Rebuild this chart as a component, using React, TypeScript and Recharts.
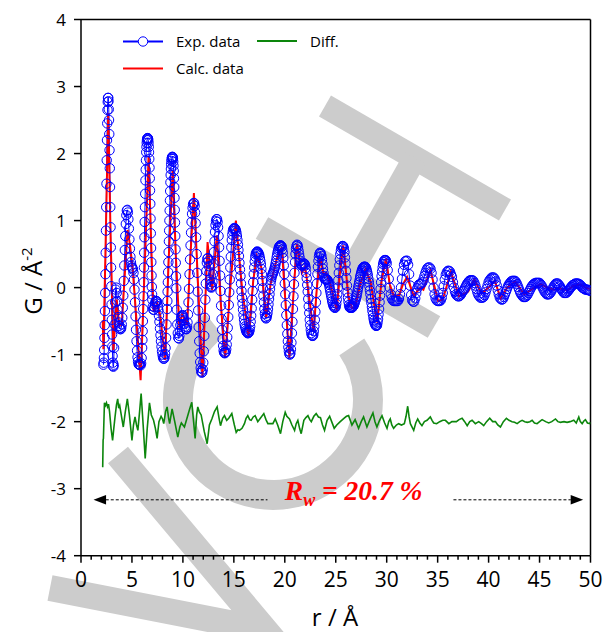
import React from 'react'
import { ComposedChart, Line, XAxis, YAxis, ReferenceLine, ReferenceDot } from 'recharts'

const FONT = '"Open Sans", "Noto Sans", Arial, sans-serif'

// axis ticks
const xTicks = Array.from({ length: 51 }, (_, i) => i)
const yTicks = [-4, -3, -2, -1, 0, 1, 2, 3, 4]

// Exp. data in segments (start r, step, values)
const expG1 = [-1.15, -1.12, -1.05, -0.93, -0.75, -0.56, -0.35, -0.08, 0.2, 0.52, 0.85, 1.2, 1.55, 1.9, 2.2, 2.45, 2.65, 2.77, 2.83, 2.83, 2.78, 2.66, 2.5, 2.29, 2.05, 1.78, 1.5, 1.2, 0.9, 0.6, 0.3, 0.02, -0.25, -0.48, -0.7, -0.88, -1.02, -1.12, -1.17, -1.18, -1.15]
const expG2 = [-0.9, -0.55, -0.22, -0.03, 0.0, -0.08, -0.2, -0.33, -0.44, -0.52, -0.57, -0.6, -0.62, -0.62, -0.6,
  -0.55, -0.45, -0.3, -0.12, 0.1, 0.33, 0.56, 0.77, 0.95, 1.08, 1.15, 1.16, 1.12, 1.02, 0.88, 0.72, 0.58, 0.46, 0.38, 0.33,
  0.3, 0.29, 0.27, 0.22, 0.12, -0.03, -0.22, -0.43, -0.63, -0.8, -0.94, -1.04, -1.1, -1.14, -1.15, -1.15, -1.15, -1.16, -1.13, -1.05,
  -0.9]
const expG3 = [-0.78, -0.65, -0.5, -0.32, -0.13, 0.08, 0.3, 0.52, 0.75, 0.98, 1.2, 1.4, 1.6, 1.76, 1.9, 2.02, 2.1, 2.16, 2.2, 2.22, 2.23, 2.23, 2.22, 2.2, 2.16, 2.1, 2.02, 1.92, 1.79, 1.63, 1.45, 1.25, 1.03, 0.81, 0.59, 0.38, 0.18, 0.01, -0.1]
const expG4 = [-0.18, -0.28, -0.33, -0.33, -0.29, -0.25, -0.22, -0.2, -0.2, -0.21, -0.24, -0.28, -0.34, -0.42, -0.51, -0.61, -0.71, -0.8, -0.88, -0.95, -1.0, -1.04, -1.06, -1.06, -1.04, -0.99, -0.9, -0.75, -0.55, -0.32]
const expG5 = [-0.2, -0.06, 0.08, 0.23, 0.38, 0.53, 0.69, 0.85, 1.0, 1.15, 1.3, 1.44, 1.57, 1.68, 1.77, 1.84, 1.89, 1.92, 1.94, 1.95, 1.95, 1.94, 1.92, 1.88, 1.82, 1.74, 1.63, 1.5, 1.34, 1.16, 0.97, 0.77, 0.57, 0.37, 0.17, -0.01]
const expG6 = [-0.33, -0.55, -0.68, -0.75, -0.76, -0.72, -0.65, -0.56, -0.49, -0.44, -0.42, -0.41,
  -0.42, -0.45, -0.49, -0.54, -0.58, -0.61, -0.62, -0.62, -0.59, -0.52, -0.4, -0.22, -0.02, 0.2, 0.42, 0.63, 0.82, 0.98, 1.1, 1.19,
  1.24, 1.26, 1.26, 1.22, 1.12, 0.96, 0.75, 0.5, 0.22, -0.06, -0.34, -0.59, -0.8, -0.98, -1.11, -1.2, -1.25, -1.27, -1.26, -1.22,
  -1.12, -0.95, -0.72, -0.45, -0.18, 0.06, 0.25, 0.37, 0.43, 0.44, 0.4, 0.32, 0.22, 0.12, 0.05, 0.01, 0.0, 0.02, 0.08, 0.2,
  0.36, 0.53, 0.69, 0.83, 0.93, 0.99, 1.02, 1.02, 0.98, 0.9, 0.77, 0.6, 0.4, 0.18, -0.05, -0.27, -0.47, -0.63, -0.77, -0.87,
  -0.94, -0.97, -0.98, -0.97, -0.96, -0.92, -0.85, -0.74, -0.6, -0.44, -0.26, -0.07, 0.12, 0.3, 0.46, 0.6, 0.71, 0.79, 0.84, 0.87]
// 15.0 .. 29.95, every 0.05
const expG7 = [
  0.88, 0.89, 0.88, 0.87, 0.85, 0.82, 0.77, 0.71, 0.64, 0.56, 0.47, 0.37, 0.27, 0.17, 0.06, -0.05, -0.15, -0.24, -0.33, -0.41,
  -0.48, -0.54, -0.58, -0.61, -0.64, -0.66, -0.67, -0.68, -0.68, -0.67, -0.66, -0.63, -0.58, -0.51, -0.42, -0.31, -0.18, -0.05, 0.08, 0.2,
  0.3, 0.39, 0.46, 0.5, 0.52, 0.53, 0.54, 0.53, 0.52, 0.5, 0.48, 0.44, 0.4, 0.35, 0.28, 0.2, 0.1, -0.01, -0.12, -0.22,
  -0.32, -0.39, -0.44, -0.46, -0.45, -0.42, -0.38, -0.32, -0.25, -0.17, -0.1, -0.02, 0.05, 0.11, 0.15, 0.18, 0.2, 0.22, 0.24, 0.26,
  0.29, 0.32, 0.36, 0.4, 0.45, 0.49, 0.53, 0.56, 0.59, 0.61, 0.62, 0.63, 0.63, 0.62, 0.61, 0.57, 0.52, 0.44, 0.33, 0.2,
  0.06, -0.1, -0.26, -0.41, -0.56, -0.69, -0.8, -0.89, -0.95, -0.99, -1.0, -0.98, -0.92, -0.82, -0.68, -0.51, -0.32, -0.13, 0.05, 0.22,
  0.38, 0.5, 0.58, 0.62, 0.64, 0.63, 0.6, 0.55, 0.5, 0.45, 0.4, 0.36, 0.34, 0.33, 0.33, 0.34, 0.35, 0.36, 0.36, 0.35,
  0.33, 0.29, 0.22, 0.14, 0.04, -0.06, -0.17, -0.28, -0.38, -0.48, -0.56, -0.63, -0.68, -0.71, -0.72, -0.72, -0.7, -0.65, -0.58, -0.48,
  -0.36, -0.22, -0.08, 0.06, 0.2, 0.31, 0.4, 0.46, 0.5, 0.52, 0.52, 0.5, 0.47, 0.42, 0.35, 0.28, 0.22, 0.17, 0.14, 0.13,
  0.12, 0.12, 0.12, 0.12, 0.11, 0.09, 0.07, 0.04, 0.0, -0.04, -0.08, -0.12, -0.16, -0.2, -0.23, -0.26, -0.28, -0.29, -0.3, -0.3,
  -0.28, -0.24, -0.18, -0.1, 0.0, 0.11, 0.22, 0.33, 0.42, 0.5, 0.55, 0.59, 0.61, 0.62, 0.62, 0.61, 0.58, 0.53, 0.45, 0.36,
  0.25, 0.14, 0.03, -0.07, -0.15, -0.21, -0.26, -0.29, -0.3, -0.3, -0.3, -0.3, -0.3, -0.29, -0.28, -0.27, -0.25, -0.23, -0.2, -0.18,
  -0.15, -0.12, -0.08, -0.04, 0.0, 0.04, 0.08, 0.12, 0.16, 0.19, 0.22, 0.25, 0.27, 0.29, 0.3, 0.31, 0.31, 0.31, 0.31, 0.3,
  0.28, 0.25, 0.22, 0.18, 0.13, 0.08, 0.02, -0.04, -0.1, -0.17, -0.23, -0.29, -0.35, -0.4, -0.45, -0.49, -0.52, -0.54, -0.56, -0.57,
  -0.57, -0.56, -0.52, -0.47, -0.4, -0.32, -0.22, -0.12, -0.02, 0.08, 0.17, 0.24, 0.3, 0.35, 0.38, 0.4, 0.41, 0.41, 0.41, 0.39]
// 30.0 .. 50.0, every 0.1
const expG8 = [
  0.36, 0.26, 0.13, 0.0, -0.1, -0.16, -0.19, -0.2, -0.2, -0.2,
  -0.2, -0.2, -0.17, -0.1, 0.0, 0.13, 0.25, 0.34, 0.39, 0.4,
  0.4, 0.34, 0.2, 0.03, -0.11, -0.19, -0.21, -0.21, -0.16, -0.08,
  -0.01, 0.03, 0.05, 0.05, 0.06, 0.08, 0.12, 0.17, 0.22, 0.26,
  0.29, 0.3, 0.3, 0.28, 0.22, 0.12, 0.0, -0.1, -0.16, -0.19,
  -0.2, -0.2, -0.2, -0.19, -0.15, -0.08, 0.02, 0.12, 0.19, 0.23,
  0.25, 0.25, 0.24, 0.2, 0.16, 0.08, 0.0, -0.06, -0.1, -0.12,
  -0.13, -0.13, -0.12, -0.1, -0.07, -0.05, -0.03, 0.0, 0.03, 0.06,
  0.08, 0.1, 0.11, 0.11, 0.11, 0.1, 0.07, 0.03, -0.02, -0.07,
  -0.11, -0.13, -0.15, -0.15, -0.15, -0.14, -0.11, -0.07, -0.02, 0.03,
  0.08, 0.11, 0.13, 0.15, 0.15, 0.15, 0.13, 0.09, 0.03, -0.04,
  -0.1, -0.15, -0.17, -0.18, -0.17, -0.14, -0.1, -0.06, -0.02, 0.02,
  0.05, 0.07, 0.09, 0.1, 0.1, 0.1, 0.1, 0.08, 0.05, 0.01,
  -0.03, -0.07, -0.1, -0.12, -0.14, -0.14, -0.14, -0.13, -0.11, -0.08,
  -0.05, -0.02, 0.01, 0.03, 0.05, 0.06, 0.07, 0.07, 0.07, 0.07,
  0.07, 0.05, 0.03, 0.0, -0.03, -0.06, -0.08, -0.1, -0.1, -0.1,
  -0.09, -0.07, -0.04, -0.01, 0.02, 0.04, 0.06, 0.06, 0.06, 0.04,
  0.02, -0.01, -0.04, -0.06, -0.08, -0.08, -0.08, -0.07, -0.05, -0.03,
  -0.01, 0.01, 0.03, 0.04, 0.05, 0.06, 0.06, 0.06, 0.06, 0.05,
  0.04, 0.02, 0.0, -0.01, -0.02, -0.03, -0.03, -0.03, -0.04, -0.04,
  -0.05]

const expSegments = [
  { start: 2.2, step: 0.025, g: expG1 },
  { start: 3.25, step: 0.05, g: expG2 },
  { start: 6.025, step: 0.025, g: expG3 },
  { start: 7.0, step: 0.05, g: expG4 },
  { start: 8.475, step: 0.025, g: expG5 },
  { start: 9.4, step: 0.05, g: expG6 },
  { start: 15.0, step: 0.05, g: expG7 },
  { start: 30.0, step: 0.1, g: expG8 },
]

// Calc. data
const calcR = [2.13, 2.2, 2.45, 2.67, 2.9, 3.18, 3.5, 3.75, 4.0, 4.3, 4.57, 4.8, 5.05, 5.45, 5.85, 6.25, 6.63, 6.9, 7.12, 7.5, 7.78, 8.25, 8.6, 9.0, 9.3, 9.65, 9.92, 10.1, 10.4, 10.75, 11.08, 11.5, 11.92, 12.42, 12.87, 13.33, 13.7, 14.15, 14.7, 15.2, 15.8, 16.44, 16.9, 17.26, 17.7, 18.17, 18.6, 19.2, 19.7, 20.1, 20.45, 20.8, 21.19, 21.67, 21.95, 22.1, 22.82, 23.15, 23.48, 23.8, 24.05, 24.46, 25.1, 25.4, 25.73, 26.26, 26.6, 26.9, 27.4, 27.9, 28.4, 29.05, 29.5, 29.93, 30.3, 30.68, 31.2, 31.6, 32.0, 32.65, 33.3, 33.6, 34.28, 35.05, 35.5, 36.3, 37.1, 37.6, 38.0, 38.6, 39.3, 40.0, 40.6, 41.2, 41.8, 42.6, 43.5, 44.3, 45.1, 45.8, 46.4, 47.0, 47.7, 48.3, 49.0, 49.5, 50.0]
const calcG = [-0.49, -0.92, 0.9, 2.6, 0.8, -0.93, -0.18, -0.56, -0.55, 0.2, 0.86, 0.64, 0.32, -0.5, -1.38, 0.3, 1.96, 0.6, -0.36, -0.24, -0.42, -1.08, 0.4, 1.75, 0.5, -0.6, -0.4, -0.44, -0.56, 0.5, 1.41, 0.0, -1.33, 0.68, -0.04, 0.78, -0.2, -1.05, 0.1, 1.0, 0.0, -0.73, 0.1, 0.47, 0.3, -0.44, 0.05, 0.42, 0.6, -0.3, -1.05, -0.2, 0.65, 0.22, 0.3, 0.2, -0.66, 0.0, 0.45, 0.2, 0.22, 0.06, -0.34, 0.2, 0.63, -0.14, -0.31, -0.3, 0.05, 0.27, 0.1, -0.52, 0.1, 0.43, 0.05, -0.12, -0.12, 0.05, 0.16, -0.12, 0.0, -0.03, 0.26, -0.2, -0.18, 0.24, -0.13, -0.09, -0.06, 0.12, -0.09, 0.0, 0.1, -0.16, 0.0, 0.09, -0.1, -0.02, 0.05, 0.0, -0.03, -0.01, -0.04, 0.02, 0.05, 0.0, -0.02]

// Diff. (offset by -2)
const diffPts: [number, number][] = [
  [2.13, -2.68], [2.17, -2.27], [2.2, -2.25], [2.3, -1.72], [2.4, -1.76], [2.5, -1.72], [2.6, -1.78], [2.7, -1.74], [2.8, -1.85], [2.95, -2.1],
  [3.1, -2.28], [3.22, -2.1], [3.34, -1.93], [3.48, -1.75], [3.6, -1.66], [3.7, -1.8], [3.8, -1.76], [3.95, -1.9], [4.15, -2.08], [4.35, -1.85],
  [4.55, -1.66], [4.75, -1.9], [5.0, -2.28], [5.15, -2.05], [5.3, -1.93], [5.45, -2.05], [5.58, -2.13], [5.75, -1.85], [5.9, -1.58], [6.1, -2.05],
  [6.3, -2.55], [6.5, -2.1], [6.72, -1.72], [6.9, -1.9], [7.12, -1.98], [7.3, -2.1], [7.47, -2.25], [7.65, -2.0], [7.86, -1.92], [8.0, -1.96],
  [8.12, -2.03], [8.3, -1.85], [8.45, -1.78], [8.6, -1.95], [8.7, -2.03], [8.94, -1.81], [9.2, -2.0], [9.5, -2.23], [9.7, -2.08], [9.85, -2.02],
  [10.0, -2.05], [10.15, -2.08], [10.4, -1.95], [10.65, -1.82], [10.87, -1.71], [11.05, -2.0], [11.2, -2.25], [11.35, -1.9], [11.46, -1.78], [11.6, -1.85],
  [11.79, -1.9], [12.1, -2.15], [12.38, -2.33], [12.6, -2.05], [12.84, -1.96], [13.1, -1.85], [13.36, -1.78], [13.55, -1.95], [13.69, -2.06], [13.9, -1.95],
  [14.08, -1.91], [14.3, -1.98], [14.5, -1.95], [14.8, -1.88], [15.05, -2.05], [15.23, -2.16], [15.4, -2.12], [15.55, -2.13], [15.8, -2.1], [16.04, -2.03],
  [16.2, -1.95], [16.37, -1.91], [16.55, -1.97], [16.7, -1.98], [16.9, -1.93], [17.09, -1.91], [17.35, -2.0], [17.6, -1.95], [17.94, -1.88], [18.15, -1.97],
  [18.34, -2.03], [18.6, -2.03], [18.83, -2.03], [19.06, -1.96], [19.3, -2.05], [19.58, -2.18], [19.8, -2.0], [20.04, -1.86], [20.2, -1.92], [20.46, -1.96],
  [20.7, -2.05], [20.96, -2.13], [21.12, -2.03], [21.28, -1.98], [21.45, -2.1], [21.61, -2.18], [21.87, -1.98], [22.07, -1.94], [22.27, -1.91], [22.45, -1.97],
  [22.6, -2.0], [22.85, -1.92], [23.08, -1.88], [23.3, -1.93], [23.5, -1.94], [23.7, -2.05], [23.9, -2.13], [24.15, -1.98], [24.4, -1.92], [24.6, -2.0],
  [24.85, -2.1], [25.1, -2.05], [25.44, -2.0], [25.8, -1.95], [26.05, -1.92], [26.26, -1.91], [26.59, -2.05], [26.9, -1.97], [27.24, -2.1], [27.5, -2.0],
  [27.73, -1.93], [28.06, -2.08], [28.35, -1.97], [28.65, -1.87], [28.85, -2.0], [29.04, -2.08], [29.3, -1.98], [29.54, -1.91], [29.8, -2.02], [30.03, -2.1],
  [30.2, -2.0], [30.35, -1.96], [30.5, -2.05], [30.68, -2.1], [30.95, -2.05], [31.17, -2.03], [31.45, -2.05], [31.73, -2.03], [31.9, -1.92], [32.06, -1.77],
  [32.2, -1.93], [32.32, -2.03], [32.65, -2.13], [32.85, -2.02], [33.04, -1.96], [33.25, -2.02], [33.46, -2.06], [33.7, -2.0], [33.96, -1.98], [34.28, -1.93],
  [34.45, -1.98], [34.61, -2.02], [34.9, -2.03], [35.2, -2.0], [35.5, -1.98], [35.76, -1.98], [36.1, -2.03], [36.4, -2.0], [36.84, -2.0], [37.1, -1.97],
  [37.4, -1.95], [37.65, -2.0], [37.9, -2.06], [38.15, -2.0], [38.38, -1.98], [38.7, -2.03], [39.03, -2.0], [39.3, -2.03], [39.52, -2.06], [39.8, -2.0],
  [40.11, -1.95], [40.4, -2.0], [40.67, -2.0], [40.9, -2.05], [41.16, -2.08], [41.45, -2.0], [41.75, -1.95], [42.0, -1.98], [42.3, -2.0], [42.55, -2.01],
  [42.8, -2.03], [43.05, -2.0], [43.29, -1.98], [43.55, -2.0], [43.8, -2.01], [44.05, -2.0], [44.27, -1.98], [44.5, -2.02], [44.76, -2.03], [45.0, -2.0],
  [45.25, -1.97], [45.6, -2.0], [45.9, -2.02], [46.2, -2.0], [46.56, -1.96], [46.8, -2.0], [47.05, -2.01], [47.4, -2.0], [47.7, -2.01], [48.0, -2.0],
  [48.36, -1.98], [48.6, -2.02], [48.85, -1.93], [49.0, -2.0], [49.18, -2.03], [49.35, -1.99], [49.5, -1.97], [49.7, -2.02], [49.93, -2.03], [50.0, -2.01],
]

// annotation
const rwY = -3.166
const arrowLeftTip = 1.23
const arrowRightTip = 49.28
const dashLeft = [2.43, 18.3]
const dashRight = [36.55, 48.07]

const expData = expSegments.flatMap((s) =>
  s.g.map((g, i) => ({ r: +(s.start + i * s.step).toFixed(3), g }))
)
const calcData = calcR.map((r, i) => ({ r, g: calcG[i] }))
const diffData = diffPts.map(([r, g]) => ({ r, g }))

const ExpDot = (p: any) => {
  if (p.cx == null || p.cy == null) return <g key={`e${p.index}`} />
  return <circle key={`e${p.index}`} cx={p.cx} cy={p.cy} r={4.7} fill="none" stroke="#0000ff" strokeWidth={1} />
}

const XTick = (props: any) => {
  const { x, y, payload } = props
  const v = payload.value
  const major = v % 5 === 0
  return (
    <g>
      <line x1={x} y1={y} x2={x} y2={y + (major ? 7 : 4)} stroke="#000" strokeWidth={1.5} />
      {major && (
        <text x={x} y={y + 31} textAnchor="middle" fontSize={21} fontFamily={FONT} fill="#000">
          {v}
        </text>
      )}
    </g>
  )
}

function Watermark() {
  return (
    <svg width={603} height={632} style={{ position: 'absolute', left: 0, top: 0 }}>
      <g stroke="#cccccc" fill="none">
        <line x1={325} y1={106} x2={505} y2={210} strokeWidth={24} />
        <line x1={262} y1={228} x2={434} y2={327} strokeWidth={25} />
        <line x1={415} y1={158} x2={348} y2={277} strokeWidth={24} />
        <path d="M214.5,325 A95,95 0 1 0 351.8,346.9" strokeWidth={30} />
        <polyline points="118,455 265,630 50,588" strokeWidth={26} strokeLinejoin="miter" />
      </g>
    </svg>
  )
}

function Overlay() {
  return (
    <svg width={603} height={632} style={{ position: 'absolute', left: 0, top: 0, pointerEvents: 'none' }}>
      <g fontFamily={FONT} fill="#000">
        <line x1={123} y1={41.5} x2={163} y2={41.5} stroke="#0000ff" strokeWidth={2} />
        <circle cx={143} cy={41.5} r={4.7} fill="#fff" stroke="#0000ff" strokeWidth={1} />
        <text x={176} y={47} fontSize={15}>Exp. data</text>
        <line x1={257} y1={41} x2={297} y2={41} stroke="#0c860c" strokeWidth={2} />
        <text x={310} y={47} fontSize={15}>Diff.</text>
        <line x1={123} y1={68.5} x2={163} y2={68.5} stroke="#ff0000" strokeWidth={2} />
        <text x={176} y={74} fontSize={15}>Calc. data</text>
        <text x={42} y={281} fontSize={24} textAnchor="middle" transform="rotate(-90 42 281)">
          G / Å<tspan fontSize={15} dy={-10}>-2</tspan>
        </text>
        <text x={335} y={626} fontSize={24} textAnchor="middle">r / Å</text>
      </g>
    </svg>
  )
}

export default function App() {
  return (
    <div style={{ position: 'relative', width: 603, height: 632, background: '#fff' }}>
      <style>{'body{margin:0}'}</style>
      <Watermark />
      <div style={{ position: 'absolute', left: 0, top: 0 }}>
        <ComposedChart width={603} height={632} margin={{ top: 19.5, right: 12.5, bottom: 0, left: 0 }}>
          <XAxis
            dataKey="r"
            type="number"
            domain={[0, 50]}
            ticks={xTicks}
            interval={0}
            tick={<XTick />}
            tickLine={false}
            tickSize={0}
            tickMargin={0}
            axisLine={{ stroke: '#000', strokeWidth: 1.5 }}
            height={76.3}
            allowDataOverflow
          />
          <YAxis
            type="number"
            domain={[-4, 4]}
            ticks={yTicks}
            interval={0}
            width={81}
            tickSize={7}
            tickMargin={8}
            tick={{ fill: '#000', fontSize: 17, fontFamily: FONT }}
            tickLine={{ stroke: '#000', strokeWidth: 1.5 }}
            axisLine={{ stroke: '#000', strokeWidth: 1.5 }}
            allowDataOverflow
          />
          <ReferenceLine y={4} stroke="#000" strokeWidth={1.5} />
          <ReferenceLine x={50} stroke="#000" strokeWidth={1.5} />
          <Line data={expData} dataKey="g" type="linear" stroke="#0000ff" strokeWidth={1} dot={ExpDot} activeDot={false} isAnimationActive={false} />
          <Line data={calcData} dataKey="g" type="linear" stroke="#ff0000" strokeWidth={2} dot={false} activeDot={false} isAnimationActive={false} />
          <Line data={diffData} dataKey="g" type="linear" stroke="#0c860c" strokeWidth={1.6} dot={false} activeDot={false} isAnimationActive={false} />
          <ReferenceLine segment={[{ x: dashLeft[0], y: rwY }, { x: dashLeft[1], y: rwY }]} stroke="#000" strokeWidth={1} strokeDasharray="3 2" />
          <ReferenceLine segment={[{ x: dashRight[0], y: rwY }, { x: dashRight[1], y: rwY }]} stroke="#000" strokeWidth={1} strokeDasharray="3 2" />
          <ReferenceDot
            x={arrowLeftTip}
            y={rwY}
            shape={(p: any) => <path d={`M${p.cx},${p.cy} l12.5,-4.8 v9.6 z`} fill="#000" />}
          />
          <ReferenceDot
            x={arrowRightTip}
            y={rwY}
            shape={(p: any) => <path d={`M${p.cx},${p.cy} l-12.5,-4.8 v9.6 z`} fill="#000" />}
          />
          <ReferenceDot
            x={20}
            y={-3.176}
            shape={(p: any) => (
              <text x={p.cx} y={p.cy} fill="#ff0000" fontFamily='"Liberation Serif", "Times New Roman", serif' fontWeight="bold" fontStyle="italic" fontSize={27.5}>
                R<tspan fontSize={18} dy={6}>w</tspan>
                <tspan dy={-6}> = 20.7 %</tspan>
              </text>
            )}
          />
        </ComposedChart>
      </div>
      <Overlay />
    </div>
  )
}
